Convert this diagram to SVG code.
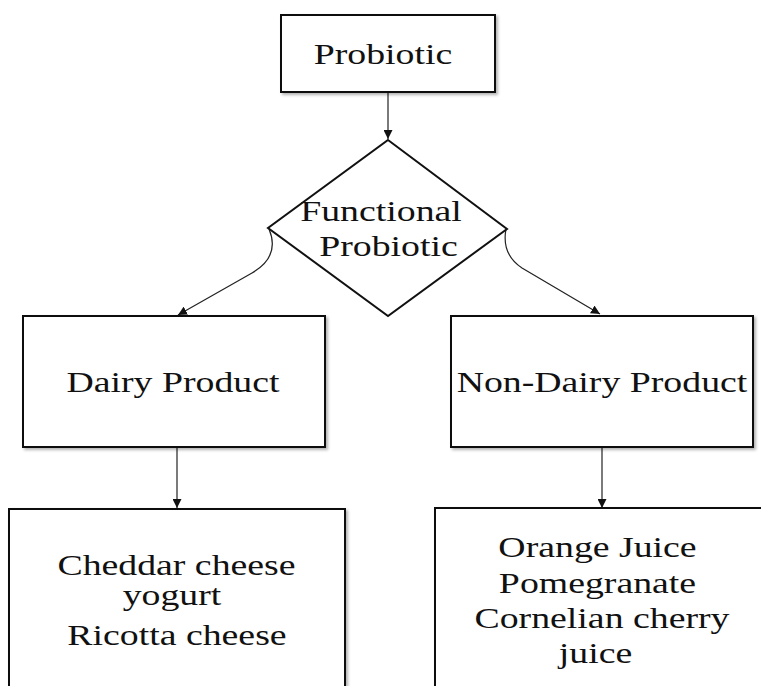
<svg xmlns="http://www.w3.org/2000/svg" width="761" height="686" viewBox="0 0 761 686">
<defs>
<filter id="sh" x="-10%" y="-10%" width="130%" height="130%">
<feDropShadow dx="2" dy="2" stdDeviation="1.5" flood-color="#000" flood-opacity="0.3"/>
</filter>
<marker id="ah" viewBox="0 0 10 10" refX="10" refY="5" markerWidth="9" markerHeight="9" markerUnits="userSpaceOnUse" orient="auto">
<path d="M0,0 L10,5 L0,10 z" fill="#111"/>
</marker>
</defs>
<style>
.box{fill:#fff;stroke:#111;stroke-width:2;filter:url(#sh)}
.t{font-family:'Liberation Serif','Times New Roman',Times,serif;font-size:30px;fill:#111;text-anchor:middle}
.c{fill:none;stroke:#222;stroke-width:1.2;marker-end:url(#ah)}
</style>
<rect width="761" height="686" fill="#fff"/>
<g id="connectors">
<path class="c" d="M388,92 L388,139"/>
<path class="c" d="M269,229 C277,248 271,262 252,273 L178,315"/>
<path class="c" d="M506,229 C503,245 507,258 522,268 L600,314"/>
<path class="c" d="M177,447 L177,508"/>
<path class="c" d="M602,447 L602,508"/>
</g>
<g id="probiotic">
<rect class="box" x="281" y="15" width="214" height="77"/>
<text class="t" x="383" y="64" transform="translate(383,0) scale(1.26,1) translate(-383,0)">Probiotic</text>
</g>
<g id="functional">
<polygon points="388,140 507,229 388,316 268,228" fill="#fff" stroke="#111" stroke-width="2"/>
<text class="t" x="381" y="221" transform="translate(381,0) scale(1.26,1) translate(-381,0)">Functional</text>
<text class="t" x="388.5" y="256" transform="translate(388.5,0) scale(1.26,1) translate(-388.5,0)">Probiotic</text>
</g>
<g id="dairy">
<rect class="box" x="23" y="316" width="302" height="131"/>
<text class="t" x="173" y="392" transform="translate(173,0) scale(1.26,1) translate(-173,0)">Dairy Product</text>
</g>
<g id="nondairy">
<rect class="box" x="451" y="316" width="302" height="131"/>
<text class="t" x="602" y="392" transform="translate(602,0) scale(1.26,1) translate(-602,0)">Non-Dairy Product</text>
</g>
<g id="dairy-examples">
<rect class="box" x="9" y="509" width="336" height="200"/>
<text class="t" x="176.5" y="575" transform="translate(176.5,0) scale(1.26,1) translate(-176.5,0)">Cheddar cheese</text>
<text class="t" x="172" y="605" transform="translate(172,0) scale(1.26,1) translate(-172,0)">yogurt</text>
<text class="t" x="177" y="645" transform="translate(177,0) scale(1.26,1) translate(-177,0)">Ricotta cheese</text>
</g>
<g id="nondairy-examples">
<rect class="box" x="435" y="508" width="340" height="200"/>
<text class="t" x="597.5" y="557" transform="translate(597.5,0) scale(1.26,1) translate(-597.5,0)">Orange Juice</text>
<text class="t" x="597.5" y="593" transform="translate(597.5,0) scale(1.26,1) translate(-597.5,0)">Pomegranate</text>
<text class="t" x="602" y="628" transform="translate(602,0) scale(1.26,1) translate(-602,0)">Cornelian cherry</text>
<text class="t" x="595.5" y="663" transform="translate(595.5,0) scale(1.26,1) translate(-595.5,0)">juice</text>
</g>
</svg>
